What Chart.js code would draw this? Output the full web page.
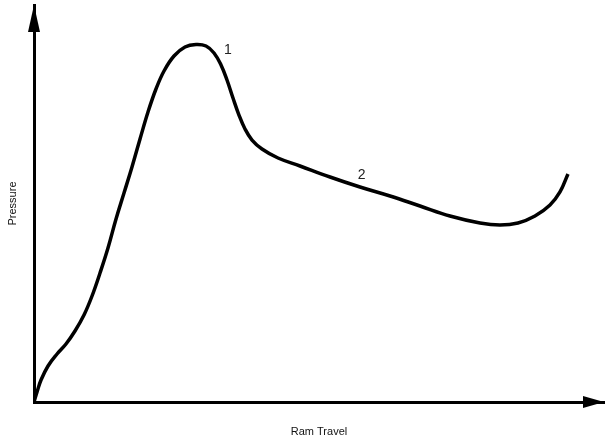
<!DOCTYPE html>
<html>
<head>
<meta charset="utf-8">
<script src="https://cdn.jsdelivr.net/npm/chart.js@4/dist/chart.umd.min.js"></script>
<style>
  html, body { margin: 0; padding: 0; background: #fff; }
  #wrap { width: 606px; height: 440px; position: relative; }
</style>
</head>
<body>
<div id="wrap"><canvas id="c"></canvas></div>
<script>
// Ram travel (arbitrary units, 0-100) and pressure (arbitrary units, 0-100)
const ramTravel = [0, 0.53, 1.23, 2.46, 4.04, 5.61, 7.19, 8.77, 10.18, 11.58, 12.98, 14.39, 15.79, 17.19, 18.60, 20.00, 21.40, 22.81, 24.56, 26.49, 28.42, 30.18, 31.58, 32.81, 33.86, 34.91, 35.96, 37.02, 38.25, 40.00, 42.81, 46.67, 51.93, 57.19, 62.46, 67.72, 72.98, 78.25, 81.75, 84.91, 87.89, 90.53, 92.28, 93.68];
const pressure  = [0, 2.52, 5.54, 9.07, 12.09, 14.61, 17.88, 21.91, 26.70, 32.49, 38.79, 46.10, 52.64, 59.19, 66.25, 73.05, 78.84, 83.38, 87.15, 89.42, 90.05, 89.67, 87.91, 84.89, 81.11, 76.57, 72.29, 68.77, 65.99, 63.73, 61.46, 59.45, 56.68, 54.16, 51.89, 49.37, 46.85, 45.09, 44.58, 45.09, 46.85, 49.62, 52.90, 57.43];

// Point labels on the curve
const markText = ['1', '2'];
const markX = [34.0, 57.5];
const markY = [88.7, 57.2];

const xTitle = 'Ram Travel';
const yTitle = 'Pressure';

const points = ramTravel.map((x, i) => ({ x: x, y: pressure[i] }));

const FONT = '"Liberation Sans", Arial, sans-serif';

const arrowsAndMarks = {
  id: 'arrowsAndMarks',
  afterDraw(chart) {
    const ctx = chart.ctx;
    const xs = chart.scales.x, ys = chart.scales.y;
    const ox = xs.getPixelForValue(0), oy = ys.getPixelForValue(0);
    const xEnd = xs.getPixelForValue(xs.max), yEnd = ys.getPixelForValue(ys.max);
    ctx.save();
    ctx.fillStyle = '#000';
    // y arrow
    ctx.beginPath();
    ctx.moveTo(ox, yEnd);
    ctx.lineTo(ox - 6, yEnd + 27);
    ctx.lineTo(ox + 6, yEnd + 27);
    ctx.closePath();
    ctx.fill();
    // x arrow
    ctx.beginPath();
    ctx.moveTo(xEnd, oy);
    ctx.lineTo(xEnd - 21, oy - 6);
    ctx.lineTo(xEnd - 21, oy + 6);
    ctx.closePath();
    ctx.fill();
    // curve labels
    ctx.font = '14px ' + FONT;
    ctx.fillStyle = '#222';
    ctx.textAlign = 'center';
    ctx.textBaseline = 'middle';
    markText.forEach((t, i) => {
      ctx.fillText(t, xs.getPixelForValue(markX[i]), ys.getPixelForValue(markY[i]));
    });
    ctx.restore();
  }
};

new Chart(document.getElementById('c'), {
  type: 'scatter',
  data: {
    datasets: [{
      data: points,
      showLine: true,
      borderColor: '#000',
      borderWidth: 3.5,
      pointRadius: 0,
      tension: 0.4,
      fill: false
    }]
  },
  options: {
    responsive: true,
    maintainAspectRatio: false,
    animation: false,
    layout: { padding: { left: 0, right: 2, top: 5, bottom: 0 } },
    plugins: { legend: { display: false }, tooltip: { enabled: false } },
    scales: {
      x: {
        type: 'linear', min: 0, max: 100,
        grid: { display: false, drawTicks: false },
        border: { display: true, color: '#000', width: 3 },
        ticks: { display: false },
        title: { display: true, text: xTitle, color: '#111',
                 font: { family: FONT, size: 11 }, padding: { top: 23.4, bottom: 1.4 } }
      },
      y: {
        type: 'linear', min: 0, max: 100,
        grid: { display: false, drawTicks: false },
        border: { display: true, color: '#000', width: 3 },
        ticks: { display: false },
        title: { display: true, text: yTitle, color: '#111',
                 font: { family: FONT, size: 11 }, padding: { top: 6.4, bottom: 14.4 } }
      }
    }
  },
  plugins: [arrowsAndMarks]
});
</script>
</body>
</html>
